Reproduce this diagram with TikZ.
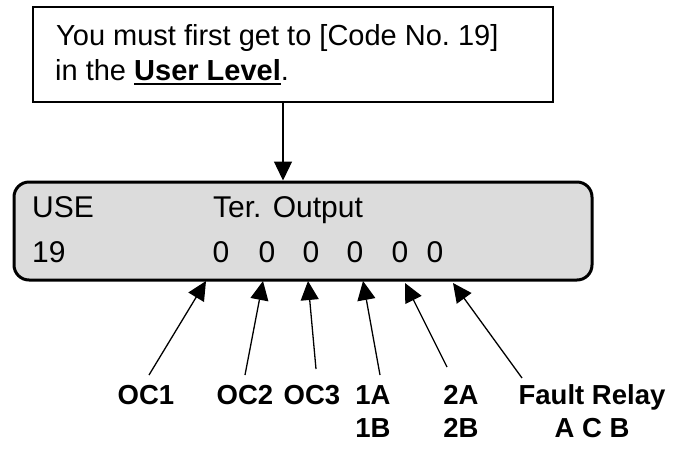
\documentclass[tikz,border=0pt]{standalone}
\usepackage{fontspec}
\setmainfont{Liberation Sans}
\usepackage{tikz}
\usetikzlibrary{positioning,arrows.meta,calc}
\definecolor{lcdgray}{RGB}{220,220,220}
\newcommand{\boldul}[1]{\setbox0\hbox{\bfseries #1}\rlap{\rule[-4.9pt]{\wd0}{1.8pt}}\box0}
\frenchspacing

\begin{document}
\begin{tikzpicture}[x=1pt, y=-1pt,
  msgbox/.style={draw, line width=1.6pt, minimum width=520pt, minimum height=95pt, inner sep=0pt},
  lcd/.style={draw, fill=lcdgray, line width=3pt, rounded corners=15pt,
              minimum width=578pt, minimum height=98pt, inner sep=0pt},
  txt/.style={font=\fontsize{29}{35}\selectfont, inner sep=0pt, anchor=base west},
  dsp/.style={font=\fontsize{30}{36}\selectfont, inner sep=0pt, anchor=base west},
  dig/.style={font=\fontsize{30}{36}\selectfont, inner sep=0pt, anchor=base},
  lbl/.style={font=\bfseries\fontsize{27.5}{33}\selectfont, align=center, inner sep=0pt, anchor=base},
  arr/.style={line width=1.3pt, -{Triangle[length=19pt, width=18pt]}},
]
\useasboundingbox (0,0) rectangle (673,451);

\node[msgbox] (msg) at (293, 54.5) {};
\node[txt] (msgA) at (56, 45) {You must first get to [Code No. 19]};
\node[txt] (msgB) at (55, 80) {in the \boldul{User Level}.};

\node[lcd] (lcd) at (303, 231) {};
\node[dsp] (use)  at (32, 217)  {USE};
\node[dsp] (ter)  at (213, 217) {Ter.\hspace{3pt} Output};
\node[dsp] (code) at (32, 262)  {19};
\node[dig] (z1) at (221, 262) {0};
\node[dig] (z2) at (267, 262) {0};
\node[dig] (z3) at (311, 262) {0};
\node[dig] (z4) at (355, 262) {0};
\node[dig] (z5) at (400, 262) {0};
\node[dig] (z6) at (435, 262) {0};

\draw[arr] ([xshift=-10pt]msg.south) -- ([xshift=-10pt]msg.south |- lcd.north);

% labels under the display (two-line ones sit on their last line)
\node[lbl] (oc1)   at (146, 404) {OC1};
\node[lbl] (oc2)   at (245, 404) {OC2};
\node[lbl] (oc3)   at (312, 404) {OC3};
\node[lbl] (out1)  at (373, 437) {1A\\1B};
\node[lbl] (out2)  at (461, 437) {2A\\2B};
\node[lbl] (fault) at (592, 437) {Fault Relay\\A C B};

\coordinate (t1) at (149, 375);
\coordinate (t2) at (245, 375);
\coordinate (t3) at (316, 369);
\coordinate (t4) at (380, 375);
\coordinate (t5) at (447, 367);
\coordinate (t6) at (522, 378);

\draw[arr] (t1) -- (206, 281);
\draw[arr] (t2) -- (263, 281);
\draw[arr] (t3) -- (308, 281);
\draw[arr] (t4) -- (363, 281);
\draw[arr] (t5) -- (405, 283);
\draw[arr] (t6) -- (453, 283);
\end{tikzpicture}
\end{document}
